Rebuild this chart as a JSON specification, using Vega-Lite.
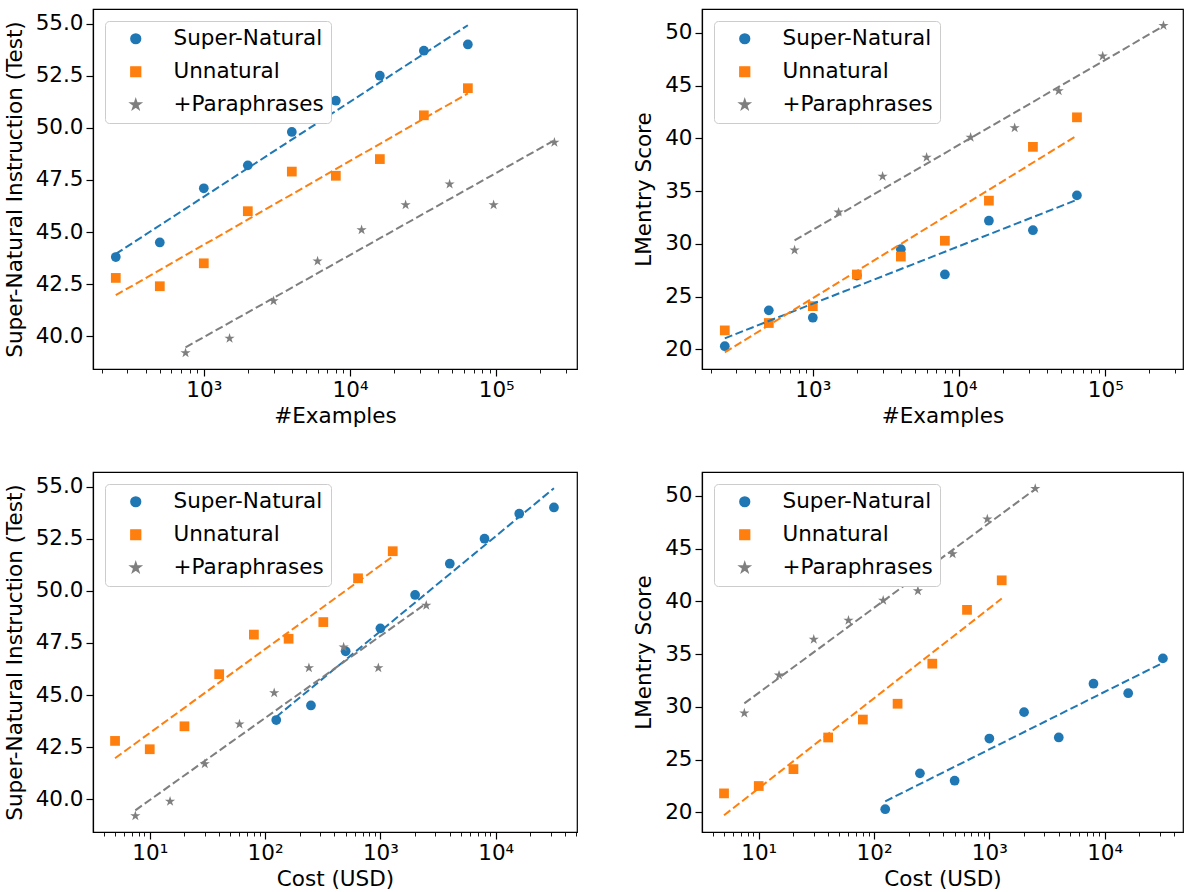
{
  "$schema": "https://vega.github.io/schema/vega-lite/v6.json",
  "padding": {"left": 3, "top": 8, "right": 0, "bottom": 0},
  "background": "white",
  "datasets": {
    "points": [
      {"series": "Super-Natural", "examples": 250, "cost": 125, "sni": 43.8, "lmentry": 20.3},
      {"series": "Super-Natural", "examples": 500, "cost": 250, "sni": 44.5, "lmentry": 23.7},
      {"series": "Super-Natural", "examples": 1000, "cost": 500, "sni": 47.1, "lmentry": 23.0},
      {"series": "Super-Natural", "examples": 2000, "cost": 1000, "sni": 48.2, "lmentry": 27.0},
      {"series": "Super-Natural", "examples": 4000, "cost": 2000, "sni": 49.8, "lmentry": 29.5},
      {"series": "Super-Natural", "examples": 8000, "cost": 4000, "sni": 51.3, "lmentry": 27.1},
      {"series": "Super-Natural", "examples": 16000, "cost": 8000, "sni": 52.5, "lmentry": 32.2},
      {"series": "Super-Natural", "examples": 32000, "cost": 16000, "sni": 53.7, "lmentry": 31.3},
      {"series": "Super-Natural", "examples": 64000, "cost": 32000, "sni": 54.0, "lmentry": 34.6},
      {"series": "Unnatural", "examples": 250, "cost": 5, "sni": 42.8, "lmentry": 21.8},
      {"series": "Unnatural", "examples": 500, "cost": 10, "sni": 42.4, "lmentry": 22.5},
      {"series": "Unnatural", "examples": 1000, "cost": 20, "sni": 43.5, "lmentry": 24.1},
      {"series": "Unnatural", "examples": 2000, "cost": 40, "sni": 46.0, "lmentry": 27.1},
      {"series": "Unnatural", "examples": 4000, "cost": 80, "sni": 47.9, "lmentry": 28.8},
      {"series": "Unnatural", "examples": 8000, "cost": 160, "sni": 47.7, "lmentry": 30.3},
      {"series": "Unnatural", "examples": 16000, "cost": 320, "sni": 48.5, "lmentry": 34.1},
      {"series": "Unnatural", "examples": 32000, "cost": 640, "sni": 50.6, "lmentry": 39.2},
      {"series": "Unnatural", "examples": 64000, "cost": 1280, "sni": 51.9, "lmentry": 42.0},
      {"series": "+Paraphrases", "examples": 750, "cost": 7.5, "sni": 39.2, "lmentry": 29.4},
      {"series": "+Paraphrases", "examples": 1500, "cost": 15, "sni": 39.9, "lmentry": 33.0},
      {"series": "+Paraphrases", "examples": 3000, "cost": 30, "sni": 41.7, "lmentry": 36.4},
      {"series": "+Paraphrases", "examples": 6000, "cost": 60, "sni": 43.6, "lmentry": 38.2},
      {"series": "+Paraphrases", "examples": 12000, "cost": 120, "sni": 45.1, "lmentry": 40.1},
      {"series": "+Paraphrases", "examples": 24000, "cost": 240, "sni": 46.3, "lmentry": 41.0},
      {"series": "+Paraphrases", "examples": 48000, "cost": 480, "sni": 47.3, "lmentry": 44.5},
      {"series": "+Paraphrases", "examples": 96000, "cost": 960, "sni": 46.3, "lmentry": 47.8},
      {"series": "+Paraphrases", "examples": 250000, "cost": 2500, "sni": 49.3, "lmentry": 50.7}
    ],
    "trends": [
      {"series": "Super-Natural", "examples": 250, "cost": 125, "sni": 43.95, "lmentry": 21.05},
      {"series": "Super-Natural", "examples": 64000, "cost": 32000, "sni": 54.92, "lmentry": 34.18},
      {"series": "Unnatural", "examples": 250, "cost": 5, "sni": 41.97, "lmentry": 19.72},
      {"series": "Unnatural", "examples": 64000, "cost": 1280, "sni": 51.65, "lmentry": 40.27},
      {"series": "+Paraphrases", "examples": 750, "cost": 7.5, "sni": 39.47, "lmentry": 30.33},
      {"series": "+Paraphrases", "examples": 250000, "cost": 2500, "sni": 49.4, "lmentry": 50.65}
    ]
  },
  "config": {
    "font": "DejaVu Sans",
    "view": {"stroke": "black", "strokeWidth": 1.2},
    "axis": {
      "grid": false, "domainColor": "black", "domainWidth": 1.2,
      "tickColor": "black", "tickWidth": 1.2, "tickSize": 7,
      "labelColor": "black", "titleColor": "black",
      "labelFont": "DejaVu Sans", "titleFont": "DejaVu Sans",
      "labelFontSize": 21.5, "titleFontSize": 21.5, "titleFontWeight": "normal",
      "labelPadding": 3, "labelOverlap": false, "labelFlush": false
    },
    "axisY": {"titlePadding": 9},
    "axisX": {"titlePadding": 5},
    "legend": {
      "padding": 7,
      "fillColor": "white", "strokeColor": "#cccccc", "cornerRadius": 4,
      "labelFont": "DejaVu Sans", "labelFontSize": 21.5, "labelColor": "black", "labelLimit": 400,
      "symbolSize": 95, "rowPadding": 10, "labelOffset": 27, "symbolOffset": 13
    }
  },
  "spacing": 43,
  "resolve": {"scale": {"color": "independent", "shape": "independent", "stroke": "independent"}, "legend": {"color": "independent", "shape": "independent"}},
  "vconcat": [
    {
      "spacing": 55,
      "resolve": {"scale": {"color": "independent", "shape": "independent", "stroke": "independent"}, "legend": {"color": "independent", "shape": "independent"}},
      "hconcat": [
        {
          "width": 484, "height": 360,
          "layer": [
            {
              "data": {"name": "points"},
              "mark": {"type": "point", "filled": true, "size": 95, "opacity": 1},
              "encoding": {
                "x": {"field": "examples", "type": "quantitative", "title": "#Examples",
                  "scale": {"type": "log", "domain": [174.6, 357000], "nice": false},
                  "axis": {
                    "values": [200,300,400,500,600,700,800,900,1000,2000,3000,4000,5000,6000,7000,8000,9000,10000,20000,30000,40000,50000,60000,70000,80000,90000,100000,200000,300000],
                    "labelExpr": "datum.value == 10 ? '10¹' : datum.value == 100 ? '10²' : datum.value == 1000 ? '10³' : datum.value == 10000 ? '10⁴' : datum.value == 100000 ? '10⁵' : ''",
                    "tickSize": {"condition": {"test": "indexof([1,10,100,1000,10000,100000], datum.value) >= 0", "value": 7}, "value": 4},
                    "tickWidth": {"condition": {"test": "indexof([1,10,100,1000,10000,100000], datum.value) >= 0", "value": 1.2}, "value": 0.9}
                  }},
                "y": {"field": "sni", "type": "quantitative", "title": "Super-Natural Instruction (Test)",
                  "scale": {"domain": [38.43, 55.7], "nice": false, "zero": false},
                  "axis": {"values": [40, 42.5, 45, 47.5, 50, 52.5, 55], "format": ".1f"}},
                "color": {"field": "series", "type": "nominal",
                  "legend": {"orient": "top-left", "offset": 12, "title": null},
                  "scale": {"domain": ["Super-Natural", "Unnatural", "+Paraphrases"], "range": ["#1f77b4", "#ff7f0e", "#7f7f7f"]}},
                "shape": {"field": "series", "type": "nominal",
                  "legend": {"orient": "top-left", "offset": 12, "title": null},
                  "scale": {"domain": ["Super-Natural", "Unnatural", "+Paraphrases"], "range": ["circle", "square", "M0,-1.1L0.247,-0.34L1.046,-0.34L0.4,0.13L0.647,0.89L0,0.42L-0.647,0.89L-0.4,0.13L-1.046,-0.34L-0.247,-0.34Z"]}}
              }
            },
            {
              "data": {"name": "trends"},
              "mark": {"type": "line", "strokeDash": [8, 3.5], "strokeWidth": 2},
              "encoding": {
                "x": {"field": "examples", "type": "quantitative"},
                "y": {"field": "sni", "type": "quantitative"},
                "stroke": {"field": "series", "type": "nominal", "legend": null,
                  "scale": {"domain": ["Super-Natural", "Unnatural", "+Paraphrases"], "range": ["#1f77b4", "#ff7f0e", "#7f7f7f"]}}
              }
            }
          ]
        },
        {
          "width": 481, "height": 360,
          "layer": [
            {
              "data": {"name": "points"},
              "mark": {"type": "point", "filled": true, "size": 95, "opacity": 1},
              "encoding": {
                "x": {"field": "examples", "type": "quantitative", "title": "#Examples",
                  "scale": {"type": "log", "domain": [174.6, 340000], "nice": false},
                  "axis": {
                    "values": [200,300,400,500,600,700,800,900,1000,2000,3000,4000,5000,6000,7000,8000,9000,10000,20000,30000,40000,50000,60000,70000,80000,90000,100000,200000,300000],
                    "labelExpr": "datum.value == 10 ? '10¹' : datum.value == 100 ? '10²' : datum.value == 1000 ? '10³' : datum.value == 10000 ? '10⁴' : datum.value == 100000 ? '10⁵' : ''",
                    "tickSize": {"condition": {"test": "indexof([1,10,100,1000,10000,100000], datum.value) >= 0", "value": 7}, "value": 4},
                    "tickWidth": {"condition": {"test": "indexof([1,10,100,1000,10000,100000], datum.value) >= 0", "value": 1.2}, "value": 0.9}
                  }},
                "y": {"field": "lmentry", "type": "quantitative", "title": "LMentry Score",
                  "scale": {"domain": [18.14, 52.27], "nice": false, "zero": false},
                  "axis": {"values": [20, 25, 30, 35, 40, 45, 50], "format": "d"}},
                "color": {"field": "series", "type": "nominal",
                  "legend": {"orient": "top-left", "offset": 12, "title": null},
                  "scale": {"domain": ["Super-Natural", "Unnatural", "+Paraphrases"], "range": ["#1f77b4", "#ff7f0e", "#7f7f7f"]}},
                "shape": {"field": "series", "type": "nominal",
                  "legend": {"orient": "top-left", "offset": 12, "title": null},
                  "scale": {"domain": ["Super-Natural", "Unnatural", "+Paraphrases"], "range": ["circle", "square", "M0,-1.1L0.247,-0.34L1.046,-0.34L0.4,0.13L0.647,0.89L0,0.42L-0.647,0.89L-0.4,0.13L-1.046,-0.34L-0.247,-0.34Z"]}}
              }
            },
            {
              "data": {"name": "trends"},
              "mark": {"type": "line", "strokeDash": [8, 3.5], "strokeWidth": 2},
              "encoding": {
                "x": {"field": "examples", "type": "quantitative"},
                "y": {"field": "lmentry", "type": "quantitative"},
                "stroke": {"field": "series", "type": "nominal", "legend": null,
                  "scale": {"domain": ["Super-Natural", "Unnatural", "+Paraphrases"], "range": ["#1f77b4", "#ff7f0e", "#7f7f7f"]}}
              }
            }
          ]
        }
      ]
    },
    {
      "spacing": 55,
      "resolve": {"scale": {"color": "independent", "shape": "independent", "stroke": "independent"}, "legend": {"color": "independent", "shape": "independent"}},
      "hconcat": [
        {
          "width": 484, "height": 360,
          "layer": [
            {
              "data": {"name": "points"},
              "mark": {"type": "point", "filled": true, "size": 95, "opacity": 1},
              "encoding": {
                "x": {"field": "cost", "type": "quantitative", "title": "Cost (USD)",
                  "scale": {"type": "log", "domain": [3.22, 50700], "nice": false},
                  "axis": {
                    "values": [4,5,6,7,8,9,10,20,30,40,50,60,70,80,90,100,200,300,400,500,600,700,800,900,1000,2000,3000,4000,5000,6000,7000,8000,9000,10000,20000,30000,40000,50000],
                    "labelExpr": "datum.value == 10 ? '10¹' : datum.value == 100 ? '10²' : datum.value == 1000 ? '10³' : datum.value == 10000 ? '10⁴' : datum.value == 100000 ? '10⁵' : ''",
                    "tickSize": {"condition": {"test": "indexof([1,10,100,1000,10000,100000], datum.value) >= 0", "value": 7}, "value": 4},
                    "tickWidth": {"condition": {"test": "indexof([1,10,100,1000,10000,100000], datum.value) >= 0", "value": 1.2}, "value": 0.9}
                  }},
                "y": {"field": "sni", "type": "quantitative", "title": "Super-Natural Instruction (Test)",
                  "scale": {"domain": [38.43, 55.7], "nice": false, "zero": false},
                  "axis": {"values": [40, 42.5, 45, 47.5, 50, 52.5, 55], "format": ".1f"}},
                "color": {"field": "series", "type": "nominal",
                  "legend": {"orient": "top-left", "offset": 12, "title": null},
                  "scale": {"domain": ["Super-Natural", "Unnatural", "+Paraphrases"], "range": ["#1f77b4", "#ff7f0e", "#7f7f7f"]}},
                "shape": {"field": "series", "type": "nominal",
                  "legend": {"orient": "top-left", "offset": 12, "title": null},
                  "scale": {"domain": ["Super-Natural", "Unnatural", "+Paraphrases"], "range": ["circle", "square", "M0,-1.1L0.247,-0.34L1.046,-0.34L0.4,0.13L0.647,0.89L0,0.42L-0.647,0.89L-0.4,0.13L-1.046,-0.34L-0.247,-0.34Z"]}}
              }
            },
            {
              "data": {"name": "trends"},
              "mark": {"type": "line", "strokeDash": [8, 3.5], "strokeWidth": 2},
              "encoding": {
                "x": {"field": "cost", "type": "quantitative"},
                "y": {"field": "sni", "type": "quantitative"},
                "stroke": {"field": "series", "type": "nominal", "legend": null,
                  "scale": {"domain": ["Super-Natural", "Unnatural", "+Paraphrases"], "range": ["#1f77b4", "#ff7f0e", "#7f7f7f"]}}
              }
            }
          ]
        },
        {
          "width": 481, "height": 360,
          "layer": [
            {
              "data": {"name": "points"},
              "mark": {"type": "point", "filled": true, "size": 95, "opacity": 1},
              "encoding": {
                "x": {"field": "cost", "type": "quantitative", "title": "Cost (USD)",
                  "scale": {"type": "log", "domain": [3.22, 47800], "nice": false},
                  "axis": {
                    "values": [4,5,6,7,8,9,10,20,30,40,50,60,70,80,90,100,200,300,400,500,600,700,800,900,1000,2000,3000,4000,5000,6000,7000,8000,9000,10000,20000,30000,40000],
                    "labelExpr": "datum.value == 10 ? '10¹' : datum.value == 100 ? '10²' : datum.value == 1000 ? '10³' : datum.value == 10000 ? '10⁴' : datum.value == 100000 ? '10⁵' : ''",
                    "tickSize": {"condition": {"test": "indexof([1,10,100,1000,10000,100000], datum.value) >= 0", "value": 7}, "value": 4},
                    "tickWidth": {"condition": {"test": "indexof([1,10,100,1000,10000,100000], datum.value) >= 0", "value": 1.2}, "value": 0.9}
                  }},
                "y": {"field": "lmentry", "type": "quantitative", "title": "LMentry Score",
                  "scale": {"domain": [18.14, 52.27], "nice": false, "zero": false},
                  "axis": {"values": [20, 25, 30, 35, 40, 45, 50], "format": "d"}},
                "color": {"field": "series", "type": "nominal",
                  "legend": {"orient": "top-left", "offset": 12, "title": null},
                  "scale": {"domain": ["Super-Natural", "Unnatural", "+Paraphrases"], "range": ["#1f77b4", "#ff7f0e", "#7f7f7f"]}},
                "shape": {"field": "series", "type": "nominal",
                  "legend": {"orient": "top-left", "offset": 12, "title": null},
                  "scale": {"domain": ["Super-Natural", "Unnatural", "+Paraphrases"], "range": ["circle", "square", "M0,-1.1L0.247,-0.34L1.046,-0.34L0.4,0.13L0.647,0.89L0,0.42L-0.647,0.89L-0.4,0.13L-1.046,-0.34L-0.247,-0.34Z"]}}
              }
            },
            {
              "data": {"name": "trends"},
              "mark": {"type": "line", "strokeDash": [8, 3.5], "strokeWidth": 2},
              "encoding": {
                "x": {"field": "cost", "type": "quantitative"},
                "y": {"field": "lmentry", "type": "quantitative"},
                "stroke": {"field": "series", "type": "nominal", "legend": null,
                  "scale": {"domain": ["Super-Natural", "Unnatural", "+Paraphrases"], "range": ["#1f77b4", "#ff7f0e", "#7f7f7f"]}}
              }
            }
          ]
        }
      ]
    }
  ]
}
